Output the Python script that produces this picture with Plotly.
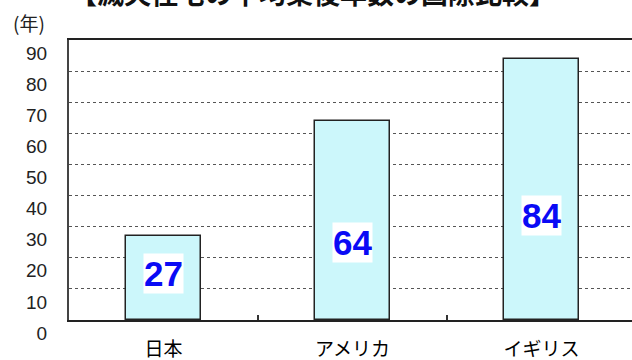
import plotly.graph_objects as go

# Average age of demolished housing, by country
countries = ["日本", "アメリカ", "イギリス"]
years = [27, 64, 84]
y_ticks = [0, 10, 20, 30, 40, 50, 60, 70, 80, 90]
y_tick_text = [str(v) for v in y_ticks]

# height (in axis units) at which each value label sits inside its bar
label_y = [15, 25, 33.6]

title_text = "【滅失住宅の平均築後年数の国際比較】"
unit_text = "(年)"

fig = go.Figure()
fig.add_trace(go.Bar(
    x=countries,
    y=years,
    width=0.40,
    marker=dict(color="#ccf7fb", line=dict(color="#222222", width=1.5)),
    hoverinfo="skip",
))

for c, v, ly in zip(countries, years, label_y):
    fig.add_annotation(
        x=c, y=ly, xref="x", yref="y",
        text=f"<b>{v}</b>", showarrow=False,
        font=dict(family="Liberation Sans, Arial", size=35, color="#0a0af5"),
        bgcolor="white", borderpad=0,
    )

fig.add_annotation(
    x=0.433, y=1, xref="paper", yref="paper", xanchor="center", yanchor="middle",
    yshift=48, text=f"<b>{title_text}</b>", showarrow=False,
    font=dict(family="Noto Sans CJK JP", size=27, color="#111111"),
)
fig.add_annotation(
    x=0, y=1, xref="paper", yref="paper", xanchor="center", yanchor="middle",
    xshift=-40, yshift=18, text=unit_text, showarrow=False,
    font=dict(family="Noto Sans CJK JP", size=19, color="#222222"),
)

fig.update_layout(
    width=632, height=360,
    margin=dict(l=69, r=0, t=40, b=40, autoexpand=False),
    paper_bgcolor="white", plot_bgcolor="white",
    showlegend=False,
    bargap=0,
)
fig.update_xaxes(
    type="category",
    range=[-0.5, 2.479],
    automargin=False,
    tickson="boundaries", ticks="inside", ticklen=5, tickwidth=1.5, tickcolor="#333333",
    showgrid=False,
    showline=True, linecolor="#222222", linewidth=2, mirror=True,
    tickfont=dict(family="Noto Sans CJK JP", size=19, color="#000000"),
    ticklabelstandoff=11,
)
fig.update_yaxes(
    range=[0, 90],
    automargin=False,
    tickvals=y_ticks, ticktext=y_tick_text,
    showgrid=True, gridcolor="#555555", griddash="dot", gridwidth=1,
    showline=True, linecolor="#444444", linewidth=2,
    ticks="", zeroline=False,
    tickfont=dict(family="Liberation Sans, Arial", size=19, color="#222222"),
    ticklabelshift=13, ticklabelstandoff=16,
)

fig.write_html("out.html")
